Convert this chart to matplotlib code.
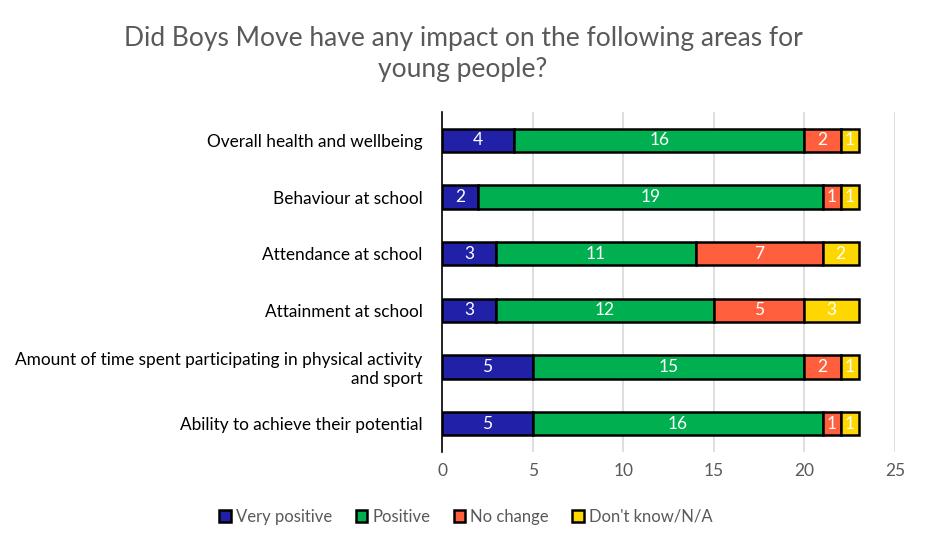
import matplotlib
matplotlib.use("Agg")
import matplotlib.pyplot as plt
import numpy as np

categories = [
    "Overall health and wellbeing",
    "Behaviour at school",
    "Attendance at school",
    "Attainment at school",
    "Amount of time spent participating in physical activity\nand sport",
    "Ability to achieve their potential",
]
series_names = ["Very positive", "Positive", "No change", "Don't know/N/A"]
very_positive = [4, 2, 3, 3, 5, 5]
positive = [16, 19, 11, 12, 15, 16]
no_change = [2, 1, 7, 5, 2, 1]
dont_know = [1, 1, 2, 3, 1, 1]
colors = ["#2121A8", "#00B050", "#FF5F3C", "#FFD700"]
label_colors = ["white", "white", "white", "white"]
x_ticks = [0, 5, 10, 15, 20, 25]
title = "Did Boys Move have any impact on the following areas for\nyoung people?"

plt.rcParams['font.family'] = ['Lato', 'DejaVu Sans']

fig = plt.figure(figsize=(9.26, 5.48), dpi=100)
ax = fig.add_axes([442/926, 1-452/548, (895-442)/926, (452-112)/548])

data = [very_positive, positive, no_change, dont_know]
y = np.arange(len(categories))
left = np.zeros(len(categories))
for name, vals, c, lc in zip(series_names, data, colors, label_colors):
    vals = np.array(vals, dtype=float)
    bars = ax.barh(y, vals, left=left, height=0.41, color=c, edgecolor="black",
                   linewidth=1.8, label=name, zorder=3)
    for b, v in zip(bars, vals):
        ax.text(b.get_x() + b.get_width()/2, b.get_y() + b.get_height()/2, f"{int(v)}",
                ha="center", va="center", color=lc, fontsize=12.5, zorder=4)
    left += vals

ax.set_ylim(len(categories)-0.5, -0.5)
ax.set_xlim(0, 25)
ax.set_xticks(x_ticks)
ax.set_yticks(y)
ax.set_yticklabels(categories, fontsize=12.45, color="#000000")
ax.tick_params(axis="x", labelsize=12.5, labelcolor="#595959", length=0, pad=8)
ax.tick_params(axis="y", length=0, pad=14)
ax.xaxis.grid(True, color="#D9D9D9", linewidth=1.2, zorder=0)
for s in ["top", "right", "bottom"]:
    ax.spines[s].set_visible(False)
ax.spines["left"].set_color("black")
ax.spines["left"].set_linewidth(1.2)

fig.text(463/926, 1-54/548, title, ha="center", va="center", fontsize=19,
         color="#595959", linespacing=1.3)

leg = fig.legend(loc="center", bbox_to_anchor=(466/926, 1-517/548), ncol=4, frameon=False,
                 fontsize=12, handlelength=0.7, handleheight=0.7, handletextpad=0.3,
                 columnspacing=1.4)
for t in leg.get_texts():
    t.set_color("#595959")

fig.savefig("out.png", dpi=100)
